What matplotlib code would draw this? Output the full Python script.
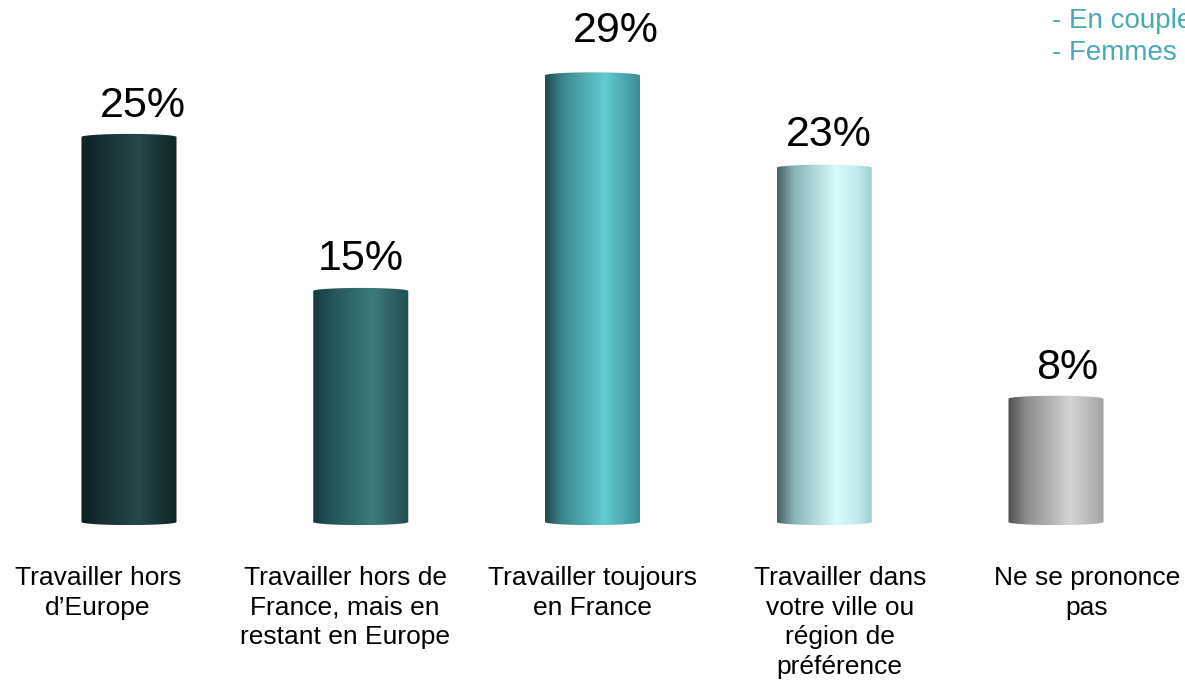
import numpy as np
import matplotlib
matplotlib.use("Agg")
import matplotlib.pyplot as plt
from matplotlib.colors import LinearSegmentedColormap
from matplotlib.path import Path
from matplotlib.patches import PathPatch

plt.rcParams['font.family'] = ['Liberation Sans', 'DejaVu Sans']

categories = [
    "Travailler hors\nd\u2019Europe",
    "Travailler hors de\nFrance, mais en\nrestant en Europe",
    "Travailler toujours\nen France",
    "Travailler dans\nvotre ville ou\nr\u00e9gion de\npr\u00e9f\u00e9rence",
    "Ne se prononce\npas",
]
values = [25, 15, 29, 23, 8]
value_labels = ["25%", "15%", "29%", "23%", "8%"]
legend_lines = ["- En couple", "- Femmes"]

# gradient stops for each cylinder (left -> right)
bar_gradients = [
    [(0.0, "#0e2022"), (0.6, "#25484b"), (1.0, "#0f2426")],
    [(0.0, "#173a3d"), (0.2, "#23555a"), (0.62, "#3c7b7d"), (1.0, "#214d50")],
    [(0.0, "#1e4a4f"), (0.18, "#3a878d"), (0.62, "#63cbd2"), (1.0, "#3b8b92")],
    [(0.0, "#475f61"), (0.18, "#8bb5b8"), (0.62, "#d8fbfd"), (0.85, "#c0eaed"), (1.0, "#9ccccf")],
    [(0.0, "#4e4e4e"), (0.18, "#8a8a8a"), (0.65, "#d4d4d4"), (1.0, "#a4a4a4")],
]
# small horizontal/vertical nudges for the percentage labels (data units)
label_dx = [0.06, 0.0, 0.10, 0.02, 0.05]
label_dy = [2.0, 2.1, 2.9, 2.1, 2.0]

W, H = 1185, 680
fig = plt.figure(figsize=(W / 100, H / 100), dpi=100)
ax = fig.add_axes([0, 0, 1, 1])
ax.set_facecolor("white")

px_x = 231.75   # pixels per category
px_y = 15.4     # pixels per percent
x0_px = 129
base_px = H - 522
width = 0.41
cap = 0.2

xs = np.arange(len(values))
t = np.linspace(0, np.pi, 60)

for x, v, stops in zip(xs, values, bar_gradients):
    cmap = LinearSegmentedColormap.from_list("cyl", stops)
    left, right = x - width / 2, x + width / 2
    # outline: left side up, top half ellipse, right side down, bottom half ellipse
    top_arc = np.column_stack([x - width / 2 * np.cos(t), v + cap * np.sin(t)])
    bot_arc = np.column_stack([x + width / 2 * np.cos(t), 0 - cap * np.sin(t)])
    verts = np.vstack([[left, 0], top_arc, [right, 0], bot_arc, [left, 0]])
    codes = [Path.MOVETO] + [Path.LINETO] * (len(verts) - 2) + [Path.CLOSEPOLY]
    patch = PathPatch(Path(verts, codes), facecolor="none", edgecolor="none")
    ax.add_patch(patch)
    grad = np.linspace(0, 1, 256).reshape(1, -1)
    im = ax.imshow(grad, cmap=cmap, aspect="auto", interpolation="bilinear",
                   extent=[left, right, -cap, v + cap], zorder=2)
    im.set_clip_path(patch)

for x, v, lab, dx, dy in zip(xs, values, value_labels, label_dx, label_dy):
    ax.text(x + dx, v + dy, lab, ha="center", va="center", fontsize=31, color="black")

ax.set_xlim(-x0_px / px_x, (W - x0_px) / px_x)
ax.set_ylim(-base_px / px_y, (H - base_px) / px_y)
ax.axis("off")

# category labels below the cylinders
label_px = np.linspace(98, 1087, len(categories))
for lx, cat in zip(label_px, categories):
    fig.text(lx / W, 1 - 566 / H, cat, ha="center", va="top", fontsize=19,
             linespacing=1.3, color="black")

# top-right annotation, cut by the edge as in the original
for i, line in enumerate(legend_lines):
    fig.text(1052 / W, 1 - (28 + 32 * i) / H, line, ha="left", va="baseline",
             fontsize=20, color="#4aaab3")

fig.savefig("out.png", dpi=100, facecolor="white")
